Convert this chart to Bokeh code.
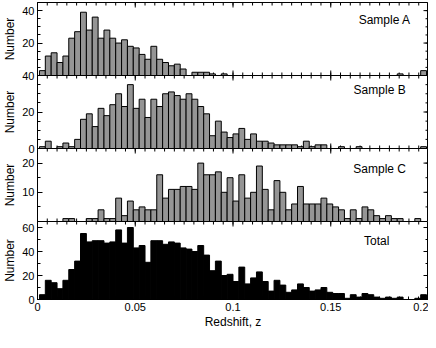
import math
from bokeh.plotting import figure
from bokeh.layouts import column
from bokeh.models import Range1d, FixedTicker, LinearAxis, Label
from bokeh.embed import file_html
from bokeh.resources import INLINE

# ---- data (counts per redshift bin, bins of width 0.003 starting at z=0.001) ----
bin_start = 0.001
bin_width = 0.003

sample_a = [3, 12, 14, 8, 12, 23, 27, 39, 28, 36, 23, 28, 23, 20, 22, 18, 17, 13, 10, 18,
            10, 8, 6, 7, 4, 0, 2, 2, 2, 1, 0, 1, 0, 0, 0, 0, 0, 0, 0, 0,
            0, 0, 0, 0, 0, 0, 0, 0, 0, 0, 0, 0, 0, 0, 0, 0, 0, 0, 0, 0,
            0, 1, 0, 0, 0, 3, 0]
sample_b = [1, 4, 0, 1, 3, 1, 5, 16, 19, 12, 22, 18, 24, 30, 23, 35, 22, 27, 17, 27,
            23, 30, 31, 29, 27, 30, 27, 23, 19, 7, 15, 9, 6, 8, 11, 5, 8, 4, 4, 3,
            2, 2, 2, 2, 1, 4, 1, 2, 2, 0, 0, 1, 0, 0, 1, 0, 0, 0, 0, 0,
            0, 0, 0, 0, 0, 1, 0]
sample_c = [0, 0, 0, 0, 1, 1, 0, 0, 1, 1, 4, 1, 1, 8, 2, 7, 4, 5, 4, 4,
            16, 8, 11, 11, 12, 12, 11, 20, 16, 16, 17, 10, 15, 7, 16, 8, 10, 19, 11, 4,
            14, 10, 4, 6, 12, 6, 6, 6, 8, 6, 5, 4, 1, 4, 1, 5, 4, 2, 1, 2,
            1, 1, 0, 0, 1, 0, 0]
total = [4, 16, 14, 9, 16, 25, 32, 55, 48, 49, 49, 47, 48, 58, 47, 60, 43, 45, 31, 49,
         49, 46, 48, 47, 43, 42, 40, 45, 37, 24, 32, 20, 21, 15, 27, 13, 18, 23, 15, 7,
         16, 12, 6, 8, 13, 10, 7, 8, 10, 6, 5, 5, 1, 4, 2, 5, 4, 2, 1, 2,
         1, 2, 0, 0, 1, 4, 0]

panel_names = ["Sample A", "Sample B", "Sample C", "Total"]
y_max = [45, 40, 25, 65]
y_major = [[0, 20, 40], [0, 20, 40], [0, 10, 20], [0, 20, 40, 60]]
y_labelled = [[20, 40], [0, 20, 40], [10, 20], [0, 20, 40, 60]]
y_minor_step = [5, 5, 5, 10]
x_min, x_max = 0.0, 0.2
x_major = [0, 0.05, 0.1, 0.15, 0.2]
x_major_labels = ["0", "0.05", "0.1", "0.15", "0.2"]
x_minor_step = 0.005
label_pos = [(0.1776, 34), (0.175, 32), (0.175, 17.9), (0.1735, 49)]

FONT = "Liberation Sans"
series = [sample_a, sample_b, sample_c, total]
fills = ["#959595", "#959595", "#959595", "black"]
frame_h = [73, 73, 73, 79]
MAJ, MIN = 5, 3
PAD = 6

left_edges = [bin_start + i * bin_width for i in range(len(total))]
right_edges = [l + bin_width for l in left_edges]
x_minor = [i * x_minor_step for i in range(int(round((x_max - x_min) / x_minor_step)) + 1)]

xr = Range1d(x_min, x_max)
panels = []
for i in range(4):
    top_b = 2 if i == 0 else PAD
    bot_b = 31 if i == 3 else PAD
    p = figure(width=428, height=frame_h[i] + top_b + bot_b, x_range=xr,
               y_range=Range1d(0, y_max[i]), output_backend="svg",
               toolbar_location=None, min_border_left=27, min_border_right=0,
               min_border_top=top_b, min_border_bottom=bot_b,
               x_axis_location=None, y_axis_location=None,
               margin=(0 if i == 0 else -2 * PAD, 0, 0, 0))
    p.grid.grid_line_color = None
    p.outline_line_color = "black"
    p.outline_line_alpha = 1.0
    p.background_fill_color = "white"
    p.border_fill_alpha = 0.0

    y_minor = [k * y_minor_step[i] for k in range(int(y_max[i] / y_minor_step[i]) + 1)]

    def style(ax):
        ax.major_tick_in = MAJ
        ax.major_tick_out = 0
        ax.minor_tick_in = MIN
        ax.minor_tick_out = 0
        ax.axis_line_color = "black"
        ax.major_tick_line_color = "black"
        ax.minor_tick_line_color = "black"
        ax.major_label_text_font = FONT
        ax.major_label_text_color = "black"
        ax.major_label_text_font_size = "11px"
        ax.major_label_standoff = 3
        ax.axis_label_text_font = FONT
        ax.axis_label_text_font_style = "normal"
        ax.axis_label_text_color = "black"
        ax.axis_label_text_font_size = "12px"

    left = LinearAxis(ticker=FixedTicker(ticks=y_labelled[i], minor_ticks=y_minor),
                      axis_label="Number")
    style(left)
    left.axis_label_standoff = 2
    p.add_layout(left, "left")

    # ticks on the right edge (inside)
    p.ray(x=[x_max] * len(y_major[i]), y=y_major[i], length=MAJ, length_units="screen",
          angle=math.pi, line_color="black", line_width=1)
    p.ray(x=[x_max] * len(y_minor), y=y_minor, length=MIN, length_units="screen",
          angle=math.pi, line_color="black", line_width=1)
    # ticks on the top edge (inside)
    p.ray(x=x_major, y=[y_max[i]] * len(x_major), length=MAJ, length_units="screen",
          angle=-math.pi / 2, line_color="black", line_width=1)
    p.ray(x=x_minor, y=[y_max[i]] * len(x_minor), length=MIN, length_units="screen",
          angle=-math.pi / 2, line_color="black", line_width=1)

    if i == 3:
        bottom = LinearAxis(ticker=FixedTicker(ticks=x_major, minor_ticks=x_minor),
                            axis_label="Redshift, z")
        style(bottom)
        bottom.axis_label_standoff = 1
        bottom.major_label_overrides = {v: s for v, s in zip(x_major, x_major_labels)}
        p.add_layout(bottom, "below")
    else:
        p.ray(x=x_major, y=[0] * len(x_major), length=MAJ, length_units="screen",
              angle=math.pi / 2, line_color="black", line_width=1)
        p.ray(x=x_minor, y=[0] * len(x_minor), length=MIN, length_units="screen",
              angle=math.pi / 2, line_color="black", line_width=1)

    p.quad(left=left_edges, right=right_edges, bottom=0, top=series[i],
           fill_color=fills[i], line_color="black", line_width=1)

    lab = Label(x=label_pos[i][0], y=label_pos[i][1], text=panel_names[i],
                text_align="center", text_baseline="middle", text_font=FONT,
                text_font_size="12px", text_color="black")
    p.add_layout(lab)
    panels.append(p)

layout = column(*panels, spacing=0)
open("out.html", "w").write(file_html(layout, INLINE))
